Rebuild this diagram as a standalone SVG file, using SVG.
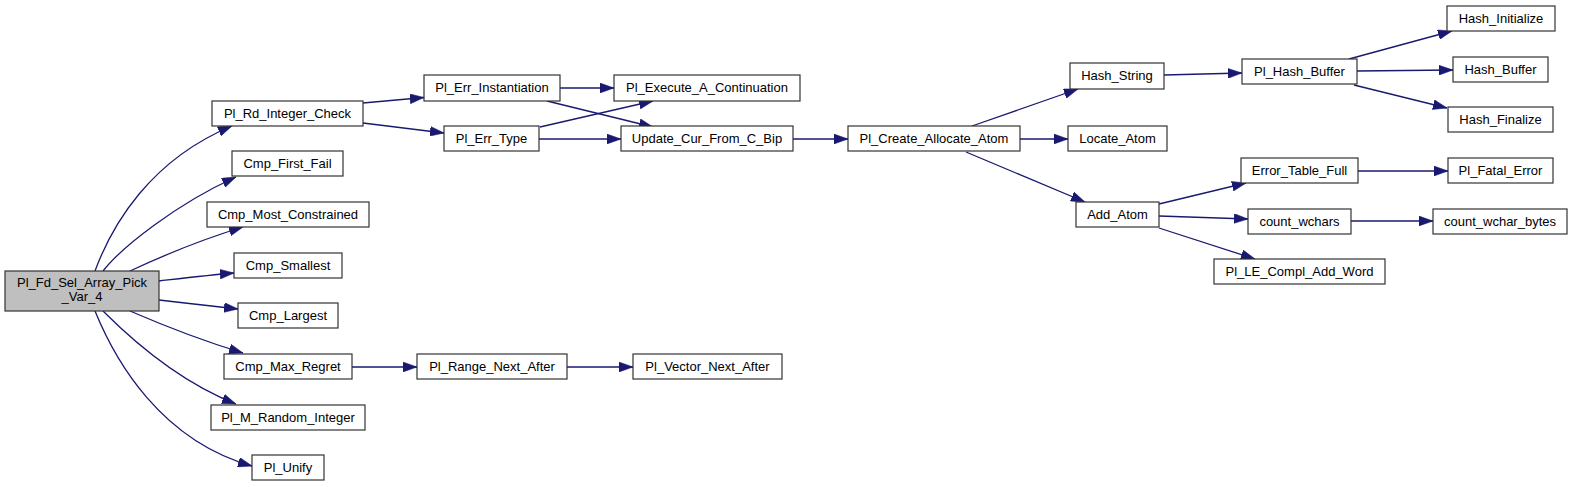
<svg xmlns="http://www.w3.org/2000/svg" width="1573" height="487" viewBox="0 0 1573 487">
<defs>
<style>
.n rect{fill:#ffffff;stroke:#333333;stroke-width:1.2}
.n.root rect{fill:#bfbfbf}
.n text{font-family:"Liberation Sans",Arial,sans-serif;font-size:13px;fill:#000000;text-anchor:middle}
.e path{fill:none;stroke:#191970;stroke-width:1.3;marker-end:url(#ah)}
</style>
<marker id="ah" markerUnits="userSpaceOnUse" markerWidth="14" markerHeight="10" viewBox="0 0 13.3 9.3" refX="13.3" refY="4.65" orient="auto">
<path d="M0,0 L13.3,4.65 L0,9.3 z" fill="#191970" stroke="#191970" stroke-width="0.5"/>
</marker>
</defs>
<rect width="1573" height="487" fill="#ffffff"/>
<g id="edges" class="e">
<path d="M95,271 C112,225 150,160 232,126"/>
<path d="M103,271 C121,248 176,204 236,177"/>
<path d="M130,271 C160,257 200,240 243,227"/>
<path d="M159,281 C185,278 210,275 234,273"/>
<path d="M159,300 C185,303 210,306 238,309"/>
<path d="M130,311 C160,324 200,340 243,353"/>
<path d="M103,311 C125,333 175,380 236,404"/>
<path d="M95,311 C115,360 160,440 252,466"/>
<path d="M363,103 L424,97.5"/>
<path d="M363,123 L444,133"/>
<path d="M560,88 L614,88"/>
<path d="M547,101 L653,127"/>
<path d="M540,127 L653,101"/>
<path d="M539,139 L621,139"/>
<path d="M793,139 L848,139"/>
<path d="M972,126 L1078,89"/>
<path d="M1020,139 L1068,139"/>
<path d="M966,152 L1085,202"/>
<path d="M1164,75 L1242,73"/>
<path d="M1349,59 L1452,31"/>
<path d="M1357,71 L1453,70"/>
<path d="M1354,85 L1447,108"/>
<path d="M1159,204 L1246,183"/>
<path d="M1159,216 L1248,219"/>
<path d="M1159,228 L1255,259"/>
<path d="M1358,171 L1448,171"/>
<path d="M1351,221 L1433,221"/>
<path d="M352,367 L417,367"/>
<path d="M567,367 L633,367"/>
</g>
<g id="n_root" class="n root"><rect x="5" y="271" width="154" height="40"/><text x="82" y="287">Pl_Fd_Sel_Array_Pick</text><text x="82" y="301">_Var_4</text></g>
<g id="n_rd" class="n"><rect x="212" y="101" width="151" height="25"/><text x="287.5" y="118">Pl_Rd_Integer_Check</text></g>
<g id="n_cff" class="n"><rect x="232" y="151" width="111" height="25"/><text x="287.5" y="168">Cmp_First_Fail</text></g>
<g id="n_cmc" class="n"><rect x="207" y="202" width="162" height="25"/><text x="288" y="219">Cmp_Most_Constrained</text></g>
<g id="n_cs" class="n"><rect x="234" y="253" width="108" height="25"/><text x="288" y="270">Cmp_Smallest</text></g>
<g id="n_cl" class="n"><rect x="238" y="303" width="100" height="25"/><text x="288" y="320">Cmp_Largest</text></g>
<g id="n_cmr" class="n"><rect x="224" y="354" width="128" height="25"/><text x="288" y="371">Cmp_Max_Regret</text></g>
<g id="n_mri" class="n"><rect x="211" y="405" width="154" height="25"/><text x="288" y="422">Pl_M_Random_Integer</text></g>
<g id="n_unify" class="n"><rect x="252" y="455" width="72" height="25"/><text x="288" y="472">Pl_Unify</text></g>
<g id="n_ei" class="n"><rect x="424" y="75" width="136" height="26"/><text x="492" y="92">Pl_Err_Instantiation</text></g>
<g id="n_et" class="n"><rect x="444" y="126" width="95" height="25"/><text x="491.5" y="143">Pl_Err_Type</text></g>
<g id="n_exec" class="n"><rect x="614" y="75" width="186" height="26"/><text x="707" y="92">Pl_Execute_A_Continuation</text></g>
<g id="n_upd" class="n"><rect x="621" y="126" width="172" height="25"/><text x="707" y="143">Update_Cur_From_C_Bip</text></g>
<g id="n_rna" class="n"><rect x="417" y="354" width="150" height="25"/><text x="492" y="371">Pl_Range_Next_After</text></g>
<g id="n_vna" class="n"><rect x="633" y="354" width="149" height="25"/><text x="707.5" y="371">Pl_Vector_Next_After</text></g>
<g id="n_caa" class="n"><rect x="848" y="126" width="172" height="25"/><text x="934" y="143">Pl_Create_Allocate_Atom</text></g>
<g id="n_hs" class="n"><rect x="1070" y="63" width="94" height="26"/><text x="1117" y="80">Hash_String</text></g>
<g id="n_la" class="n"><rect x="1068" y="126" width="99" height="25"/><text x="1117.5" y="143">Locate_Atom</text></g>
<g id="n_aa" class="n"><rect x="1076" y="202" width="83" height="25"/><text x="1117.5" y="219">Add_Atom</text></g>
<g id="n_phb" class="n"><rect x="1242" y="59" width="115" height="25"/><text x="1299.5" y="76">Pl_Hash_Buffer</text></g>
<g id="n_etf" class="n"><rect x="1241" y="158" width="117" height="25"/><text x="1299.5" y="175">Error_Table_Full</text></g>
<g id="n_cw" class="n"><rect x="1248" y="209" width="103" height="25"/><text x="1299.5" y="226">count_wchars</text></g>
<g id="n_le" class="n"><rect x="1214" y="259" width="171" height="25"/><text x="1299.5" y="276">Pl_LE_Compl_Add_Word</text></g>
<g id="n_hi" class="n"><rect x="1447" y="6" width="108" height="25"/><text x="1501" y="23">Hash_Initialize</text></g>
<g id="n_hb" class="n"><rect x="1453" y="57" width="95" height="25"/><text x="1500.5" y="74">Hash_Buffer</text></g>
<g id="n_hf" class="n"><rect x="1448" y="107" width="105" height="25"/><text x="1500.5" y="124">Hash_Finalize</text></g>
<g id="n_fe" class="n"><rect x="1448" y="158" width="105" height="25"/><text x="1500.5" y="175">Pl_Fatal_Error</text></g>
<g id="n_cwb" class="n"><rect x="1433" y="209" width="134" height="25"/><text x="1500" y="226">count_wchar_bytes</text></g>
</svg>
